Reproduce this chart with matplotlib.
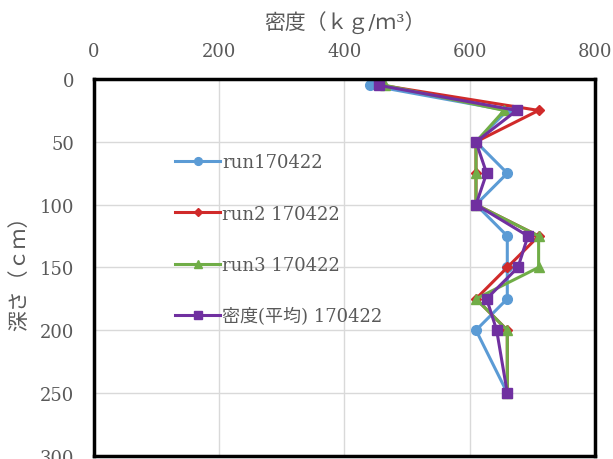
import matplotlib
matplotlib.use("Agg")
import matplotlib.pyplot as plt

plt.rcParams['font.family'] = ['DejaVu Serif', 'Noto Sans CJK JP', 'DejaVu Sans']

# depth (cm) and density (kg/m3) for each run
depth = [5, 25, 50, 75, 100, 125, 150, 175, 200, 250]
run1 = [440, 660, 610, 660, 610, 660, 660, 660, 610, 660]
run2 = [460, 710, 610, 610, 610, 710, 660, 610, 660, 660]
run3 = [465, 655, 610, 610, 610, 710, 710, 610, 660, 660]
mean = [455, 675, 610, 627, 610, 693, 677, 627, 643, 660]

labels = ['run170422', 'run2 170422', 'run3 170422', '密度(平均) 170422']
x_ticks = [0, 200, 400, 600, 800]
y_ticks = [0, 50, 100, 150, 200, 250, 300]

fig = plt.figure(figsize=(6.13, 4.6), dpi=100)
ax = fig.add_axes([0.1533, 0.007, 0.8173, 0.819])

ax.plot(run1, depth, color='#5B9BD5', marker='o', ms=7, lw=2.2, label=labels[0])
ax.plot(run2, depth, color='#D02A2A', marker='D', ms=5.5, lw=2.2, label=labels[1])
ax.plot(run3, depth, color='#70AD47', marker='^', ms=7.5, lw=2.2, label=labels[2])
ax.plot(mean, depth, color='#7030A0', marker='s', ms=7.5, lw=2.2, label=labels[3])

ax.set_xlim(0, 800)
ax.set_ylim(300, 0)
ax.set_xticks(x_ticks)
ax.set_yticks(y_ticks)
ax.xaxis.tick_top()
ax.xaxis.set_label_position('top')
ax.tick_params(length=0, labelsize=13, labelcolor='#595959')
ax.tick_params(axis='x', pad=14)
ax.tick_params(axis='y', pad=14)
ax.grid(True, color='#D9D9D9', lw=1)
ax.set_axisbelow(True)
for s in ax.spines.values():
    s.set_linewidth(2.5)
    s.set_color('black')

ax.set_xlabel('密度（ｋｇ/ｍ³）', fontsize=15, color='#595959', labelpad=10)
ax.set_ylabel('深さ（ｃｍ）', fontsize=15, color='#595959', labelpad=8)

leg = ax.legend(loc='upper left', bbox_to_anchor=(0.162, 0.803), frameon=False,
                borderpad=0, borderaxespad=0,
                fontsize=13, labelspacing=1.85, handlelength=2.5, handletextpad=0.1,
                markerscale=0.8)
for t in leg.get_texts():
    t.set_color('#595959')

fig.savefig('out.png', dpi=100)
